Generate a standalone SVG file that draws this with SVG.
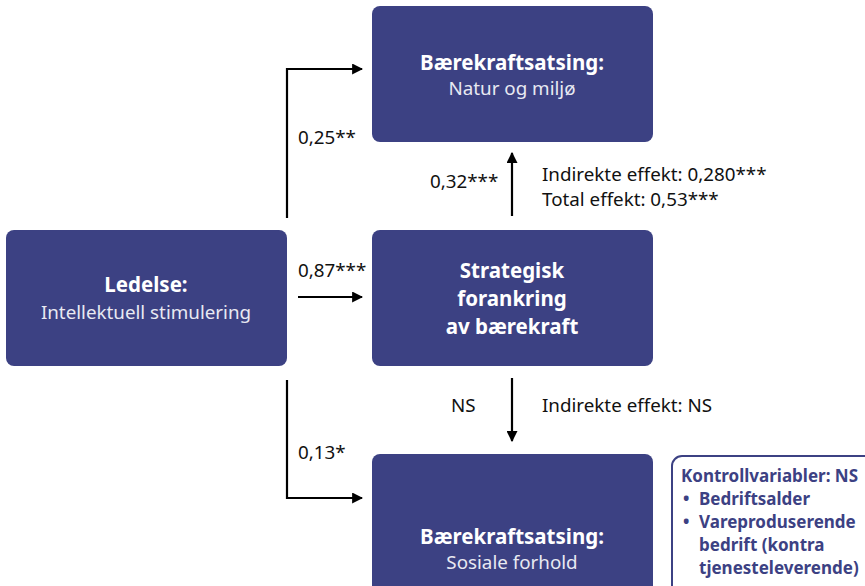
<svg xmlns="http://www.w3.org/2000/svg" width="865" height="586" viewBox="0 0 865 586">
<defs>
<style>
.box{fill:#3c4183}
.t{font-family:"Noto Sans","Open Sans",sans-serif;fill:#fff;text-anchor:middle}
.b{font-weight:bold;font-size:20.5px}
.s{font-size:18.8px;fill:#e8e9f2}
.lbl{font-family:"Noto Sans","Open Sans",sans-serif;font-size:18.8px;fill:#111}
.c{fill:none;stroke:#000;stroke-width:2.2}
.k{font-family:"Noto Sans","Open Sans",sans-serif;font-size:17px;font-weight:bold;fill:#3c4183}
</style>
<marker id="ah" viewBox="0 0 10 10" refX="9" refY="5" markerWidth="5" markerHeight="5" markerUnits="strokeWidth" orient="auto">
<path d="M0,0 L10,5 L0,10 z" fill="#000"/>
</marker>
</defs>
<rect width="865" height="586" fill="#fff"/>
<g id="connectors">
<path class="c" d="M287,218 V69 H362" marker-end="url(#ah)"/>
<path class="c" d="M287,380 V498 H362" marker-end="url(#ah)"/>
<path class="c" d="M298,297 H362" marker-end="url(#ah)"/>
<path class="c" d="M512,216 V153" marker-end="url(#ah)"/>
<path class="c" d="M512,378 V441" marker-end="url(#ah)"/>
</g>
<g id="labels">
<text class="lbl" x="298" y="144">0,25**</text>
<text class="lbl" x="298" y="277">0,87***</text>
<text class="lbl" x="298" y="459">0,13*</text>
<text class="lbl" x="430" y="188">0,32***</text>
<text class="lbl" x="451" y="412">NS</text>
<text class="lbl" x="542" y="181">Indirekte effekt: 0,280***</text>
<text class="lbl" x="542" y="206">Total effekt: 0,53***</text>
<text class="lbl" x="542" y="412">Indirekte effekt: NS</text>
</g>
<g id="ledelse">
<rect class="box" x="6" y="230" width="281" height="136" rx="8"/>
<text class="t b" x="146" y="292">Ledelse:</text>
<text class="t s" x="146" y="319">Intellektuell stimulering</text>
</g>
<g id="natur">
<rect class="box" x="372" y="6" width="281" height="136" rx="8"/>
<text class="t b" x="512" y="70">Bærekraftsatsing:</text>
<text class="t s" x="512" y="95">Natur og miljø</text>
</g>
<g id="strategisk">
<rect class="box" x="372" y="230" width="281" height="136" rx="8"/>
<text class="t b" x="512" y="278">Strategisk</text>
<text class="t b" x="512" y="306">forankring</text>
<text class="t b" x="512" y="334">av bærekraft</text>
</g>
<g id="sosiale">
<rect class="box" x="372" y="454" width="281" height="140" rx="8"/>
<text class="t b" x="512" y="544">Bærekraftsatsing:</text>
<text class="t s" x="512" y="569">Sosiale forhold</text>
</g>
<g id="kontroll">
<rect x="672" y="456" width="210" height="140" rx="10" fill="#fff" stroke="#3c4183" stroke-width="2"/>
<text class="k" x="681" y="482">Kontrollvariabler: NS</text>
<text class="k" x="683" y="505">•</text>
<text class="k" x="699" y="505">Bedriftsalder</text>
<text class="k" x="683" y="528">•</text>
<text class="k" x="699" y="528">Vareproduserende</text>
<text class="k" x="699" y="551">bedrift (kontra</text>
<text class="k" x="699" y="574">tjenesteleverende)</text>
</g>
</svg>
